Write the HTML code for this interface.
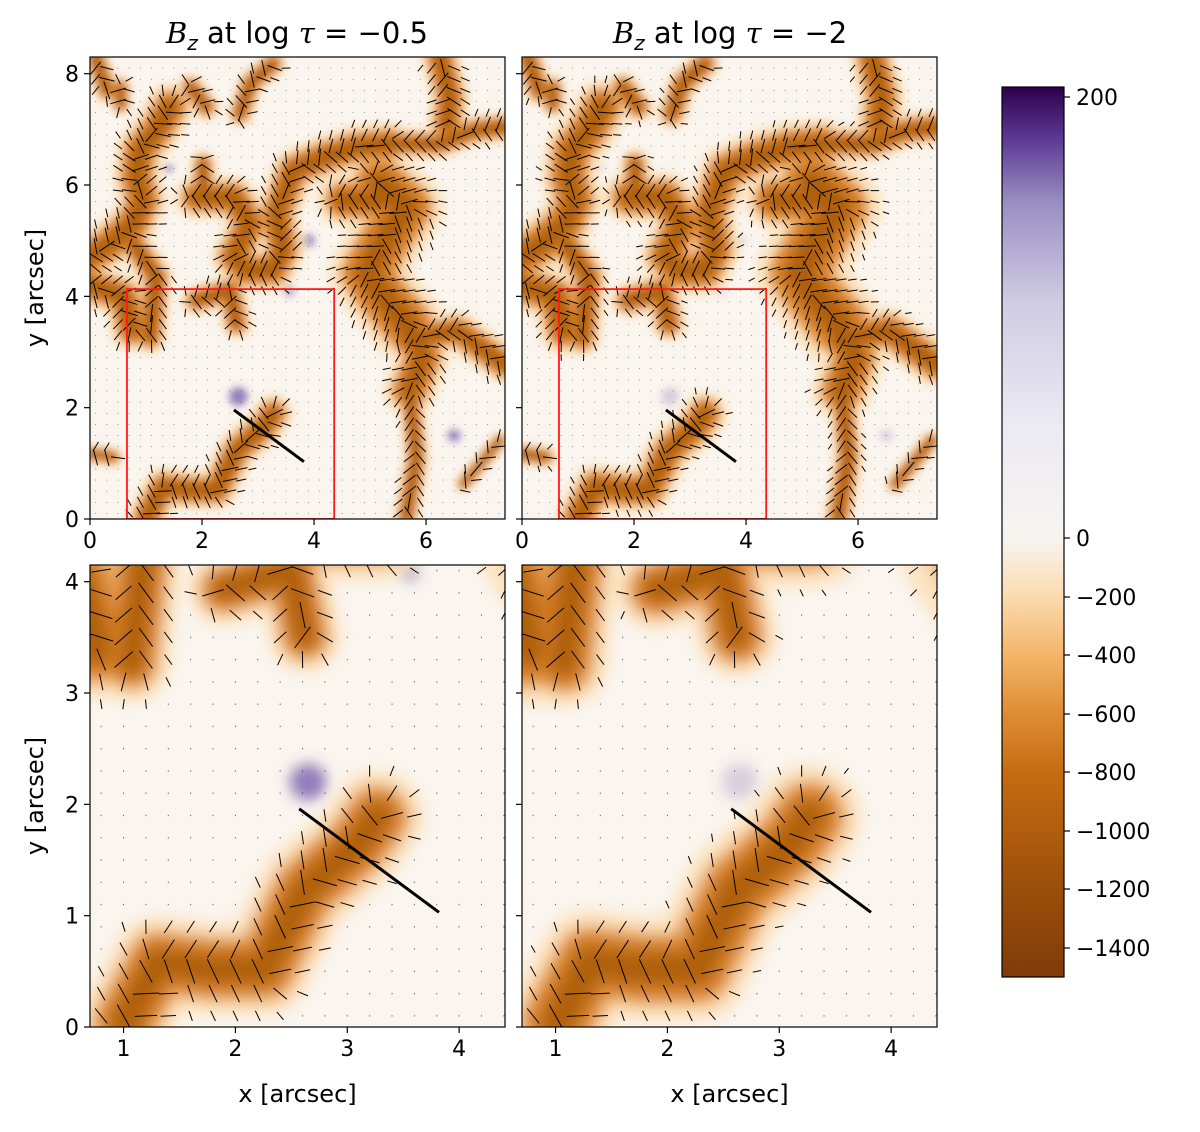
<!DOCTYPE html>
<html><head><meta charset="utf-8"><style>
html,body{margin:0;padding:0;background:#fff;}
svg text{font-family:"DejaVu Sans","Liberation Sans",sans-serif;fill:#000;}
</style></head><body>
<svg id="fig" width="1200" height="1127" viewBox="0 0 1200 1127" xmlns="http://www.w3.org/2000/svg">
<defs>
<linearGradient id="cbar" x1="0" y1="1" x2="0" y2="0">
<stop offset="0" stop-color="#7f3b08"/>
<stop offset="0.12" stop-color="#a2530a"/>
<stop offset="0.23" stop-color="#c56c12"/>
<stop offset="0.30" stop-color="#e08f36"/>
<stop offset="0.36" stop-color="#f3b468"/>
<stop offset="0.43" stop-color="#fbdcb1"/>
<stop offset="0.493" stop-color="#f7f4f0"/>
<stop offset="0.62" stop-color="#ebeaf3"/>
<stop offset="0.76" stop-color="#cfcbe3"/>
<stop offset="0.87" stop-color="#9a8fc2"/>
<stop offset="0.94" stop-color="#5e3b96"/>
<stop offset="1" stop-color="#2d004b"/>
</linearGradient>
<filter id="blurT" x="-20%" y="-20%" width="140%" height="140%"><feGaussianBlur stdDeviation="4"/></filter>
<filter id="blurB" x="-20%" y="-20%" width="140%" height="140%"><feGaussianBlur stdDeviation="7"/></filter>
</defs>
<g id="root"></g>
</svg>
<script>
// ridges of strong negative Bz (arcsec coordinates) and widths
const ridgePaths = [
 [[0,4.71],[0.36,4.95],[0.77,5.31],[0.95,5.73],[0.83,6.14],[0.89,6.62],[1.19,6.98],[1.43,7.40]],
 [[0.77,4.95],[1.19,4.35],[1.07,3.27]],
 [[0,4.2],[0.6,4.0],[0.75,3.4]],
 [[0.1,8.3],[0.3,7.7]],
 [[0.55,7.75],[0.55,7.45]],
 [[1.8,7.76],[2.08,7.4]],
 [[2.68,7.28],[2.86,7.82],[3.27,8.18]],
 [[1.9,5.78],[2.56,5.78],[2.86,5.31],[2.56,4.71],[2.8,4.47],[3.27,4.47],[3.45,4.83],[3.33,5.49],[3.63,6.26],[4.17,6.5],[4.76,6.68],[5.36,6.74]],
 [[5.36,6.74],[6.25,6.74],[6.85,6.98],[7.38,7.04]],
 [[2.02,6.38],[2.02,5.73]],
 [[5.18,6.02],[5.65,5.6],[5.24,4.95],[4.94,4.41],[5.24,3.99],[5.65,3.51]],
 [[5.65,3.51],[5.95,2.91],[5.71,2.31]],
 [[5.71,2.31],[5.83,1.11],[5.65,0.04]],
 [[4.52,5.73],[5.18,5.73]],
 [[5.65,3.21],[6.55,3.39],[7.38,2.79]],
 [[6.25,8.3],[6.43,7.58],[6.37,7.1]],
 [[1.01,0.04],[1.31,0.58],[1.79,0.52],[2.26,0.52],[2.62,1.23],[3.1,1.65],[3.27,1.89]],
 [[0,1.17],[0.42,1.11]],
 [[6.67,0.63],[7.32,1.41]],
 [[1.9,3.93],[2.5,4.11],[2.62,3.51]]
];
const ridgeWidths = [0.55,0.38,0.5,0.3,0.25,0.3,0.3,0.5,0.35,0.3,0.85,0.6,0.3,0.6,0.45,0.45,0.45,0.22,0.2,0.35];
// positive-polarity patches [x, y, radius]
const posPatches = [[2.65,2.2,0.15],[2.95,1.9,0.08],[3.9,5.0,0.1],[0.3,1.2,0.08],[1.1,7.2,0.08],[3.55,4.1,0.08],[6.1,2.2,0.08],[6.5,1.5,0.1],[3.5,1.9,0.1],[4.2,6.8,0.1],[1.4,6.3,0.07],[0.55,7.9,0.07]];
const cbTicks = [200,0,-200,-400,-600,-800,-1000,-1200,-1400];
const cbTickY = [97,538,597,655,714,772,831,889,948];
const xTicksTop = [0,2,4,6];
const yTicksTop = [0,2,4,6,8];
const xTicksBot = [1,2,3,4];
const yTicksBot = [0,1,2,3,4];
const cutLine = [[2.57,1.96],[3.82,1.03]];
const boxX = [0.66,4.36], boxY = [0,4.13];

const NS='http://www.w3.org/2000/svg';
const root=document.getElementById('root');
function mk(tag,attrs,parent){const e=document.createElementNS(NS,tag);for(const k in attrs)e.setAttribute(k,attrs[k]);(parent||root).appendChild(e);return e;}

const panels=[
 {id:'top-left',L:90,T:57,W:415,H:462,xr:[0,7.41],yr:[0,8.3],wf:1,pos:0.9,blur:'blurT',step:0.2,xt:xTicksTop,yt:yTicksTop,ylab:true,xlab:false,box:true,ql:1},
 {id:'top-right',L:522,T:57,W:415,H:462,xr:[0,7.41],yr:[0,8.3],wf:1.15,pos:0.3,blur:'blurT',step:0.2,xt:xTicksTop,yt:yTicksTop,ylab:false,xlab:false,box:true,ql:1},
 {id:'bottom-left',L:90,T:565,W:415,H:462,xr:[0.7,4.41],yr:[0,4.15],wf:1.15,pos:0.9,blur:'blurB',step:0.2,xt:xTicksBot,yt:yTicksBot,ylab:true,xlab:true,box:false,ql:0.75},
 {id:'bottom-right',L:522,T:565,W:415,H:462,xr:[0.7,4.41],yr:[0,4.15],wf:1.3,pos:0.3,blur:'blurB',step:0.2,xt:xTicksBot,yt:yTicksBot,ylab:false,xlab:true,box:false,ql:0.75}
];

function nearest(px,py){
 let best={d:1e9,w:0,nx:0,ny:0,tx:1,ty:0};
 ridgePaths.forEach((p,i)=>{for(let k=0;k<p.length-1;k++){
  const [ax,ay]=p[k],[bx,by]=p[k+1];const dx=bx-ax,dy=by-ay;const l2=dx*dx+dy*dy||1e-9;
  let t=((px-ax)*dx+(py-ay)*dy)/l2;t=Math.max(0,Math.min(1,t));
  const cx=ax+t*dx,cy=ay+t*dy;const d=Math.hypot(px-cx,py-cy);
  const rel=d/ridgeWidths[i];
  if(rel<best.d){best={d:rel,w:ridgeWidths[i],nx:px-cx,ny:py-cy,tx:dx,ty:dy};}
 }});
 return best;
}

panels.forEach((P,pi)=>{
 const sx=v=>P.L+(v-P.xr[0])/(P.xr[1]-P.xr[0])*P.W;
 const sy=v=>P.T+P.H-(v-P.yr[0])/(P.yr[1]-P.yr[0])*P.H;
 const scale=P.W/(P.xr[1]-P.xr[0]);
 const g=mk('g',{});
 
 
 mk('clipPath',{id:'clip'+pi},g);
 mk('rect',{x:P.L,y:P.T,width:P.W,height:P.H},g.lastChild);
 const c=mk('g',{'clip-path':'url(#clip'+pi+')'},g);
 const bg=mk('rect',{x:P.L,y:P.T,width:P.W,height:P.H,fill:'#faf5ef'},c);
 
 
 const m=mk('g',{filter:'url(#'+P.blur+')'},c);
 
 
 posPatches.forEach(pp=>{
  const e=mk('circle',{cx:sx(pp[0]),cy:sy(pp[1]),r:pp[2]*scale*1.1,fill:'#6a4fa3','fill-opacity':P.pos*0.8},m);
  
  
 });
 const layers=[[1.6,'#fce3c0'],[1.15,'#eaa55a'],[0.85,'#cf7a20'],[0.45,'#b0600f']];
 layers.forEach(([f,col])=>{
  ridgePaths.forEach((p,i)=>{
   const d=p.map((q,k)=>(k?'L':'M')+sx(q[0]).toFixed(1)+' '+sy(q[1]).toFixed(1)).join(' ');
   const e=mk('path',{d:d,fill:'none',stroke:col,'stroke-width':ridgeWidths[i]*P.wf*f*scale,'stroke-linecap':'round','stroke-linejoin':'round'},m);
   
   
  });
 });
 // quivers
 const q=mk('g',{stroke:'#000','stroke-width':1,'stroke-linecap':'butt'},c);
 
 
 for(let x=P.xr[0]+P.step/2;x<P.xr[1];x+=P.step){for(let y=P.yr[0]+P.step/2;y<P.yr[1];y+=P.step){
  const n=nearest(x,y);let len,ux,uy;
  if(n.d<0.9*P.wf){
   len=0.3*(1.1-n.d*0.7)*P.ql;
   const nl=Math.hypot(n.nx,n.ny);
   if(nl>0.02){ux=n.nx/nl*0.5+n.tx*0.5;uy=n.ny/nl*0.5+n.ty*0.5;}else{ux=n.tx;uy=n.ty;}
   const ul=Math.hypot(ux,uy)||1;ux/=ul;uy/=ul;
  }else{len=0.012;ux=0;uy=1;}
  const hl=len/2;
  mk('line',{x1:sx(x-ux*hl),y1:sy(y-uy*hl),x2:sx(x+ux*hl),y2:sy(y+uy*hl),'stroke-opacity':n.d<0.9*P.wf?1:0.6},q);
 }}
 const cl=mk('line',{x1:sx(cutLine[0][0]),y1:sy(cutLine[0][1]),x2:sx(cutLine[1][0]),y2:sy(cutLine[1][1]),stroke:'#000','stroke-width':3},c);
 
 
 if(P.box){
  const b=mk('rect',{x:sx(boxX[0]),y:sy(boxY[1]),width:sx(boxX[1])-sx(boxX[0]),height:sy(boxY[0])-sy(boxY[1]),fill:'none',stroke:'#ff1a1a','stroke-width':1.8},c);
  
  
 }
 const fr=mk('rect',{x:P.L,y:P.T,width:P.W,height:P.H,fill:'none',stroke:'#000','stroke-width':1.2},g);
 
 
 P.xt.forEach(t=>{
  mk('line',{x1:sx(t),y1:P.T+P.H,x2:sx(t),y2:P.T+P.H+6,stroke:'#000','stroke-width':1.2},g);
  const tx=mk('text',{x:sx(t),y:P.T+P.H+29,'text-anchor':'middle','font-size':22},g);tx.textContent=t;
  
  
 });
 P.yt.forEach(t=>{
  mk('line',{x1:P.L-6,y1:sy(t),x2:P.L,y2:sy(t),stroke:'#000','stroke-width':1.2},g);
  if(P.ylab){const tx=mk('text',{x:P.L-11,y:sy(t)+8,'text-anchor':'end','font-size':22},g);tx.textContent=t;
  
  }
 });
 if(P.ylab){const yl=mk('text',{transform:'translate(43,'+(P.T+P.H/2)+') rotate(-90)','text-anchor':'middle','font-size':24},g);yl.textContent='y [arcsec]';
  
  }
 if(P.xlab){const xl=mk('text',{x:P.L+P.W/2,y:1102,'text-anchor':'middle','font-size':24},g);xl.textContent='x [arcsec]';
  
  }
});
// titles
[['−0.5',297],['−2',730]].forEach(([v,x])=>{
 const t=mk('text',{x:x,y:43,'text-anchor':'middle','font-size':29});
 
 
 t.innerHTML='<tspan font-style="italic" font-family="DejaVu Serif, serif">B</tspan><tspan font-style="italic" font-size="20" dy="7">z</tspan><tspan dy="-7"> at log </tspan><tspan font-style="italic" font-family="DejaVu Serif, serif">τ</tspan><tspan> = </tspan><tspan>'+v+'</tspan>';
});
// colorbar
const cb=mk('g',{});


mk('rect',{x:1002,y:87,width:62,height:890,fill:'url(#cbar)',stroke:'#000','stroke-width':1.2},cb);
cbTicks.forEach((t,i)=>{
 mk('line',{x1:1064,y1:cbTickY[i],x2:1070,y2:cbTickY[i],stroke:'#000','stroke-width':1.2},cb);
 const tx=mk('text',{x:1076,y:cbTickY[i]+8,'font-size':22},cb);
 tx.textContent=(t<0?'−'+(-t):t);
 
 
});
</script>
</body></html>
